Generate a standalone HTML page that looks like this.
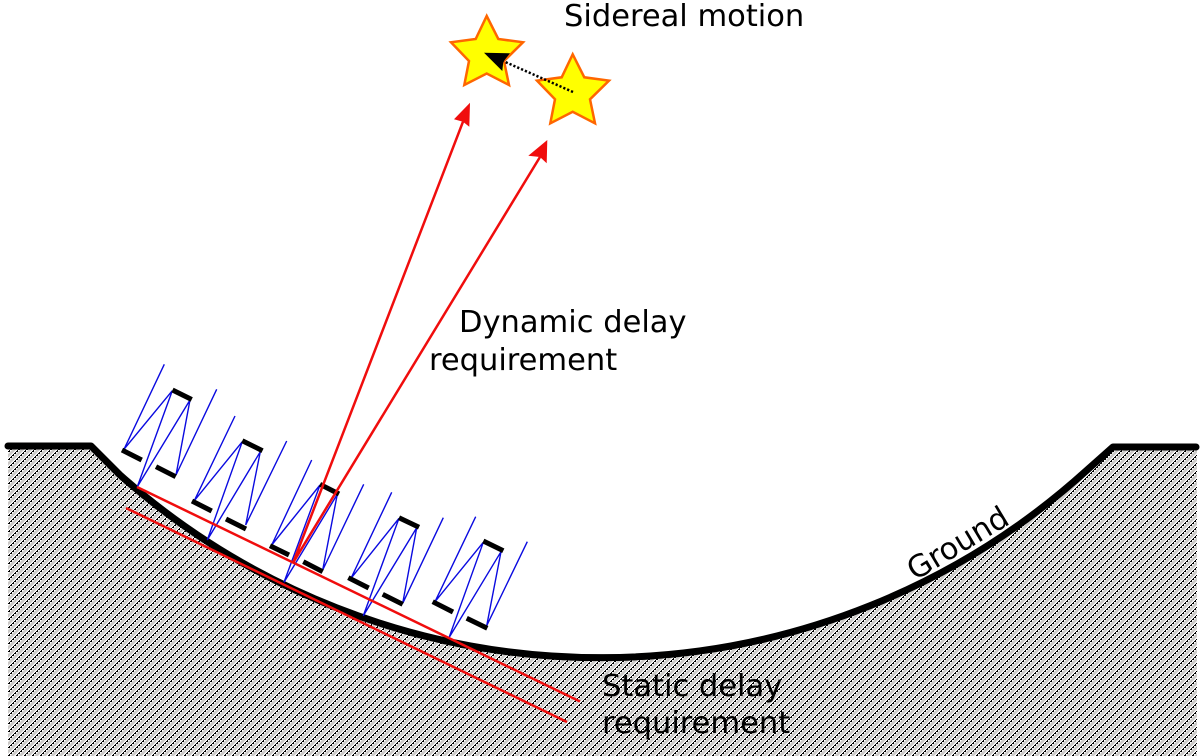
<!DOCTYPE html>
<html><head><meta charset="utf-8"><style>
html,body{margin:0;padding:0;background:#fff}
svg{display:block}
text{font-family:"DejaVu Sans",sans-serif;font-size:30.5px;fill:#000}
.b{stroke:#0a0ae0;stroke-width:1.4;fill:none}
.m{stroke:#000;stroke-width:5;fill:none}
.r{stroke:#f00d0d;stroke-width:2.5;fill:none}
.s{fill:#ff0;stroke:#f60;stroke-width:2.5}
</style></head><body>
<svg width="1200" height="756" viewBox="0 0 1200 756" xmlns="http://www.w3.org/2000/svg">
<defs>
<pattern id="h" width="8" height="8" patternUnits="userSpaceOnUse">
<rect width="8" height="8" fill="#cbc9c7"/>
<path d="M-1 5L5 -1M-1 13L13 -1" stroke="#fff" stroke-width="3" fill="none"/>
<g shape-rendering="crispEdges" fill="#000">
<rect x="0" y="3" width="2" height="1"/><rect x="1" y="2" width="1" height="1"/>
<rect x="2" y="1" width="2" height="1"/><rect x="3" y="0" width="1" height="1"/>
<rect x="4" y="7" width="2" height="1"/><rect x="5" y="6" width="1" height="1"/>
<rect x="6" y="5" width="2" height="1"/><rect x="7" y="4" width="1" height="1"/>
</g>
</pattern>
<g id="st"><polygon class="s" points="486.7,16 498.3,39 523,42.3 504,61 509,85 486.7,73.5 464.3,85 469,61 451,42.3 475.7,39"/></g>
</defs>

<path d="M8 448H91L120 475A724 724 0 0 0 1083 474L1113 448H1197V756H8Z" fill="url(#h)"/>
<path d="M8 446H91L120 475A724 724 0 0 0 1086 471L1113 447H1196" fill="none" stroke="#000" stroke-width="7" stroke-linecap="round" stroke-linejoin="round"/>

<!-- telescopes -->
<polyline class="b" points="164.3,364.3 124,449.3 172.3,390.7 137.3,486.7 190,400 176,475 216.7,389.3"/>
<path class="m" d="M172.5 390L191.7 399.5M122 450L141.7 460M156 466.7L175.7 476.7"/>
<polyline class="b" points="235,416 194.3,500.7 242.3,441.7 207.3,540 260.3,451.7 245.7,525 286.7,441"/>
<path class="m" d="M242.3 440.7L262.5 450.7M192 501L211.7 511M226 519L246 529"/>
<polyline class="b" points="311.7,460 271.7,545 320,485 284,582.3 337.3,494.3 322.7,570 363.7,484.3"/>
<path class="m" d="M320 484.3L339 494M270 545.7L289 555M303.3 561.7L322.7 571.7"/>
<polyline class="b" points="391.7,492.3 351,578.3 399,518.3 363.3,615.7 416.7,527.7 402.7,603.3 443.3,517.7"/>
<path class="m" d="M399 517.7L419 527.3M348.3 577.7L368.7 588M382.7 594.3L402.7 604.3"/>
<polyline class="b" points="475.7,516.7 435,601.7 483.3,542.3 449,637.7 501,551.7 486.7,625.7 527.3,541.7"/>
<path class="m" d="M483.3 541L503.3 550.7M432.7 601.7L453 612M466.7 618.3L487.3 628.3"/>

<!-- red -->
<path class="r" d="M137 487L580 701.5M126 508L567 722"/>
<path class="r" d="M293.3 562.3L463 121.7M293.3 562.3L540 157"/>
<polygon fill="#f00d0d" points="470,102.7 469.3,126.7 463,121.7 454,119.3"/>
<polygon fill="#f00d0d" points="547.3,140 546.7,163.3 540,157 528.3,155.7"/>

<!-- stars -->
<use href="#st"/>
<use href="#st" transform="translate(86 38.3)"/>
<line x1="573" y1="92" x2="503" y2="61" stroke="#000" stroke-width="2.5" stroke-dasharray="2.2 2"/>
<polygon fill="#000" points="484,52.7 510,53.3 503.3,61.7 502.3,71"/>

<!-- labels -->
<text x="564" y="26">Sidereal motion</text>
<text x="459" y="332">Dynamic delay</text>
<text x="429" y="370">requirement</text>
<text x="602" y="696">Static delay</text>
<text x="602" y="733">requirement</text>
<text transform="translate(915 581) rotate(-31)">Ground</text>
</svg>
</body></html>
